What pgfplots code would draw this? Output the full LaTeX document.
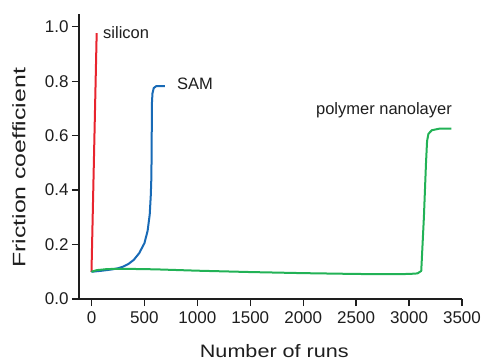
\documentclass[border=0pt]{standalone}
\usepackage{pgfplots}
\pgfplotsset{compat=1.18}
\usepackage{fontspec}
\setmainfont{Liberation Sans}
\definecolor{cred}{RGB}{232,36,46}
\definecolor{cblue}{RGB}{24,106,182}
\definecolor{cgreen}{RGB}{34,178,86}
\definecolor{ctext}{RGB}{30,30,30}
\begin{document}
\begin{tikzpicture}
\begin{axis}[
  scale only axis,
  width=383pt, height=285pt,
  xmin=-118, xmax=3500, ymin=0, ymax=1.047,
  axis lines=left,
  axis line style={-, line width=1.6pt, ctext},
  every tick/.style={line width=1.3pt, ctext},
  tick align=outside,
  major tick length=7pt,
  xtick={0,500,...,3500},
  ytick={0,0.2,...,1.0},
  /pgf/number format/assume math mode=true,
  x tick label style={/pgf/number format/1000 sep={}, font=\fontsize{17}{20}\selectfont, text=ctext, yshift=-2pt},
  y tick label style={/pgf/number format/.cd, fixed, fixed zerofill, precision=1, /tikz/.cd, font=\fontsize{17}{20}\selectfont, text=ctext},
  xlabel={\scalebox{1.2}[1]{\fontsize{18}{20}\selectfont Number of runs}},
  ylabel={\scalebox{1.38}[1]{\fontsize{18}{20}\selectfont Friction coefficient}},
  xlabel style={at={(rel axis cs:0.51,0)}, anchor=center, yshift=-52pt, text=ctext},
  ylabel style={at={(rel axis cs:0,0.46)}, anchor=center, yshift=60pt, text=ctext},
  clip=false,
]
\coordinate (o) at (rel axis cs:0,0);
\addplot[cred, line width=2pt, line join=round] coordinates {(0,0.1) (49,0.977)};
\addplot[cblue, line width=2pt, line join=round] coordinates {
(0,0.1) (100,0.104) (200,0.109) (250,0.113) (300,0.119) (350,0.129) (400,0.144) (450,0.168) (500,0.205) (530,0.25) (550,0.31) (560,0.38) (566,0.45) (569,0.6) (571,0.72) (576,0.755) (588,0.775) (612,0.782) (694,0.782)};
\addplot[cgreen, line width=2pt, line join=round] coordinates {
(0,0.1) (50,0.106) (150,0.11) (300,0.111) (600,0.109) (1000,0.104) (1500,0.099) (2000,0.095) (2500,0.092) (2800,0.091) (3000,0.092) (3080,0.094) (3115,0.103) (3140,0.3) (3160,0.5) (3170,0.58) (3183,0.607) (3215,0.62) (3290,0.626) (3400,0.626)};
\node[anchor=west, inner sep=0, text=ctext, font=\fontsize{16.5}{18}\selectfont] at (axis cs:109,0.977) {silicon};
\node[anchor=west, inner sep=0, text=ctext, font=\fontsize{16.5}{18}\selectfont] at (axis cs:808,0.79) {SAM};
\node[anchor=west, inner sep=0, text=ctext, font=\fontsize{16.5}{18}\selectfont] at (axis cs:2120,0.694) {polymer nanolayer};
\end{axis}
\pgfresetboundingbox
\path (o) ++(-79pt,-62pt) rectangle ++(487pt,361pt);
\end{tikzpicture}
\end{document}
